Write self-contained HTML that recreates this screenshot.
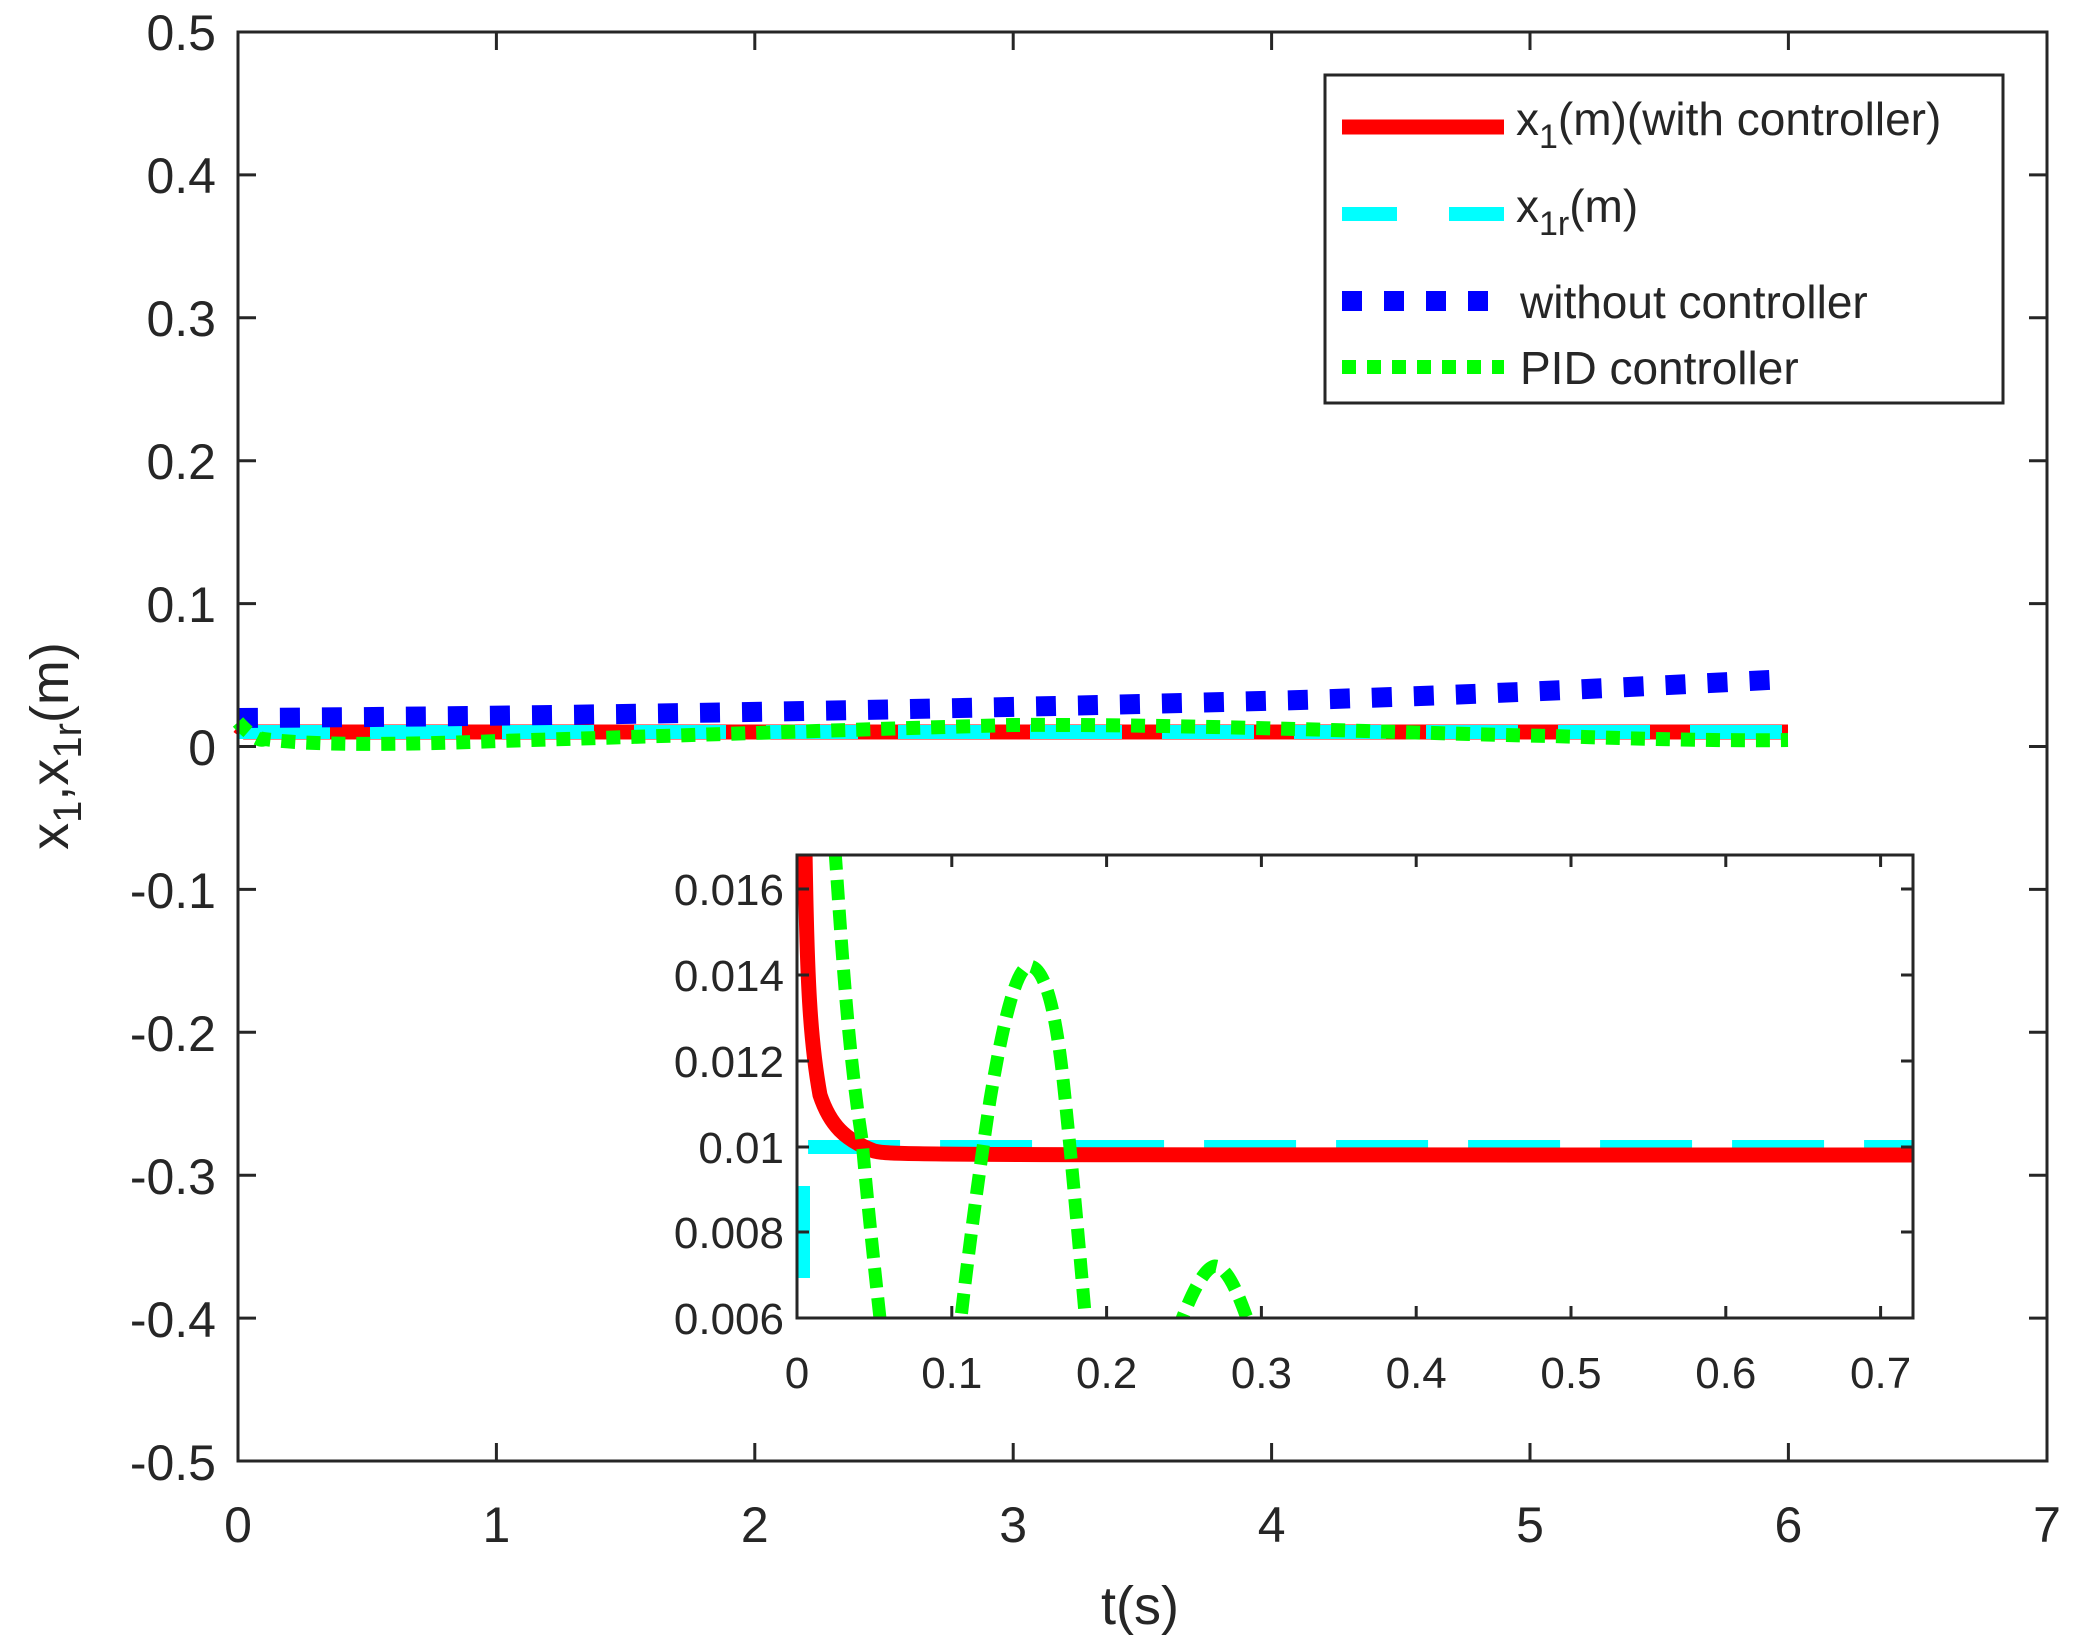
<!DOCTYPE html>
<html><head><meta charset="utf-8"><style>html,body{margin:0;padding:0;background:#fff}svg{display:block}text{font-family:"Liberation Sans",Arial,sans-serif;fill:#262626}</style></head>
<body>
<svg width="2073" height="1652" viewBox="0 0 2073 1652" xmlns="http://www.w3.org/2000/svg">
<defs>
<clipPath id="ci"><rect x="797" y="855" width="1116" height="463"/></clipPath>
</defs>
<rect width="2073" height="1652" fill="#fff"/>
<path d="M238,726 L246,732 L1788,732" stroke="#ff0000" stroke-width="15" fill="none"/>
<path d="M238,732 L1788,732" stroke="#00ffff" stroke-width="14" stroke-dasharray="92,40" fill="none"/>
<path d="M238,718 C600,716 1000,708 1300,700 C1500,694 1650,686 1788,679" stroke="#0000ff" stroke-width="20" stroke-dasharray="20,22" fill="none"/>
<path d="M238,722 C250,735 260,742 264,739 C300,744 370,746 500,741 C700,735 900,728 1013,725 C1200,724 1400,733 1550,736 C1650,739 1720,741 1788,740" stroke="#00ff00" stroke-width="14" stroke-dasharray="14,11" fill="none"/>
<rect x="238" y="32" width="1809" height="1429" fill="none" stroke="#262626" stroke-width="3"/>
<g stroke="#262626" stroke-width="3">
<path d="M496.4,1461v-18M754.8,1461v-18M1013.2,1461v-18M1271.6,1461v-18M1530,1461v-18M1788.4,1461v-18M496.4,32v18M754.8,32v18M1013.2,32v18M1271.6,32v18M1530,32v18M1788.4,32v18"/>
<path d="M238,174.9h18M238,317.8h18M238,460.7h18M238,603.6h18M238,746.5h18M238,889.4h18M238,1032.3h18M238,1175.2h18M238,1318.1h18M2047,174.9h-18M2047,317.8h-18M2047,460.7h-18M2047,603.6h-18M2047,746.5h-18M2047,889.4h-18M2047,1032.3h-18M2047,1175.2h-18M2047,1318.1h-18"/>
</g>
<g font-size="50" text-anchor="end">
<text x="216" y="50">0.5</text><text x="216" y="193">0.4</text><text x="216" y="336">0.3</text><text x="216" y="479">0.2</text><text x="216" y="622">0.1</text><text x="216" y="765">0</text><text x="216" y="908">-0.1</text><text x="216" y="1051">-0.2</text><text x="216" y="1194">-0.3</text><text x="216" y="1337">-0.4</text><text x="216" y="1480">-0.5</text>
</g>
<g font-size="50" text-anchor="middle">
<text x="238" y="1542">0</text><text x="496.4" y="1542">1</text><text x="754.8" y="1542">2</text><text x="1013.2" y="1542">3</text><text x="1271.6" y="1542">4</text><text x="1530" y="1542">5</text><text x="1788.4" y="1542">6</text><text x="2047" y="1542">7</text>
<text x="1140" y="1624" font-size="54">t(s)</text>
</g>
<text transform="translate(68,746) rotate(-90)" font-size="54" text-anchor="middle">x<tspan font-size="40" dy="13">1</tspan><tspan dy="-13">,x</tspan><tspan font-size="40" dy="13">1r</tspan><tspan dy="-13">(m)</tspan></text>
<rect x="1325" y="75" width="678" height="328" fill="#fff" stroke="#262626" stroke-width="3"/>
<path d="M1342,127H1504" stroke="#ff0000" stroke-width="15"/>
<path d="M1342,214H1504" stroke="#00ffff" stroke-width="14" stroke-dasharray="55,52,55"/>
<path d="M1342,301H1504" stroke="#0000ff" stroke-width="20" stroke-dasharray="20,22"/>
<path d="M1342,367H1504" stroke="#00ff00" stroke-width="14" stroke-dasharray="14,11"/>
<g font-size="46">
<text x="1516" y="135">x<tspan font-size="34" dy="13">1</tspan><tspan dy="-13">(m)(with controller)</tspan></text>
<text x="1516" y="222">x<tspan font-size="34" dy="13">1r</tspan><tspan dy="-13">(m)</tspan></text>
<text x="1520" y="318">without controller</text>
<text x="1520" y="384">PID controller</text>
</g>
<rect x="797" y="855" width="1116" height="463" fill="#fff"/>
<g clip-path="url(#ci)">
<path d="M803,1318 L803,1160 L808,1147 L1913,1147" stroke="#00ffff" stroke-width="14" stroke-dasharray="92,40" stroke-dashoffset="-40" fill="none"/>
<path d="M805,850 C807,980 810,1040 820,1095 C830,1125 845,1140 874,1151 C890,1155 900,1155 1913,1155" stroke="#ff0000" stroke-width="15" fill="none"/>
<path d="M835,850 C842,950 848,1050 862,1140 C870,1230 878,1300 890,1410" stroke="#00ff00" stroke-width="13" stroke-dasharray="20,10" fill="none"/>
<path d="M952,1403 C962,1300 975,1200 990,1100 C1005,1010 1018,965 1030,966 C1045,968 1055,1010 1062,1070 C1072,1160 1082,1280 1091,1382" stroke="#00ff00" stroke-width="13" stroke-dasharray="20,10" fill="none"/>
<path d="M1168,1361 C1180,1320 1200,1268 1215,1266 C1230,1266 1245,1310 1261,1361" stroke="#00ff00" stroke-width="13" stroke-dasharray="20,10" fill="none"/>
</g>
<rect x="797" y="855" width="1116" height="463" fill="none" stroke="#262626" stroke-width="3"/>
<g stroke="#262626" stroke-width="3">
<path d="M951.8,1318v-12M1106.6,1318v-12M1261.4,1318v-12M1416.2,1318v-12M1571,1318v-12M1725.8,1318v-12M1880.6,1318v-12M951.8,855v12M1106.6,855v12M1261.4,855v12M1416.2,855v12M1571,855v12M1725.8,855v12M1880.6,855v12"/>
<path d="M797,889h12M797,975h12M797,1061h12M797,1147h12M797,1232h12M1913,889h-12M1913,975h-12M1913,1061h-12M1913,1147h-12M1913,1232h-12M1913,1318h-12"/>
</g>
<g font-size="44" text-anchor="end">
<text x="784" y="905">0.016</text><text x="784" y="991">0.014</text><text x="784" y="1077">0.012</text><text x="784" y="1163">0.01</text><text x="784" y="1248">0.008</text><text x="784" y="1334">0.006</text>
</g>
<g font-size="44" text-anchor="middle">
<text x="797" y="1388">0</text><text x="951.8" y="1388">0.1</text><text x="1106.6" y="1388">0.2</text><text x="1261.4" y="1388">0.3</text><text x="1416.2" y="1388">0.4</text><text x="1571" y="1388">0.5</text><text x="1725.8" y="1388">0.6</text><text x="1880.6" y="1388">0.7</text>
</g>
</svg>
</body></html>
